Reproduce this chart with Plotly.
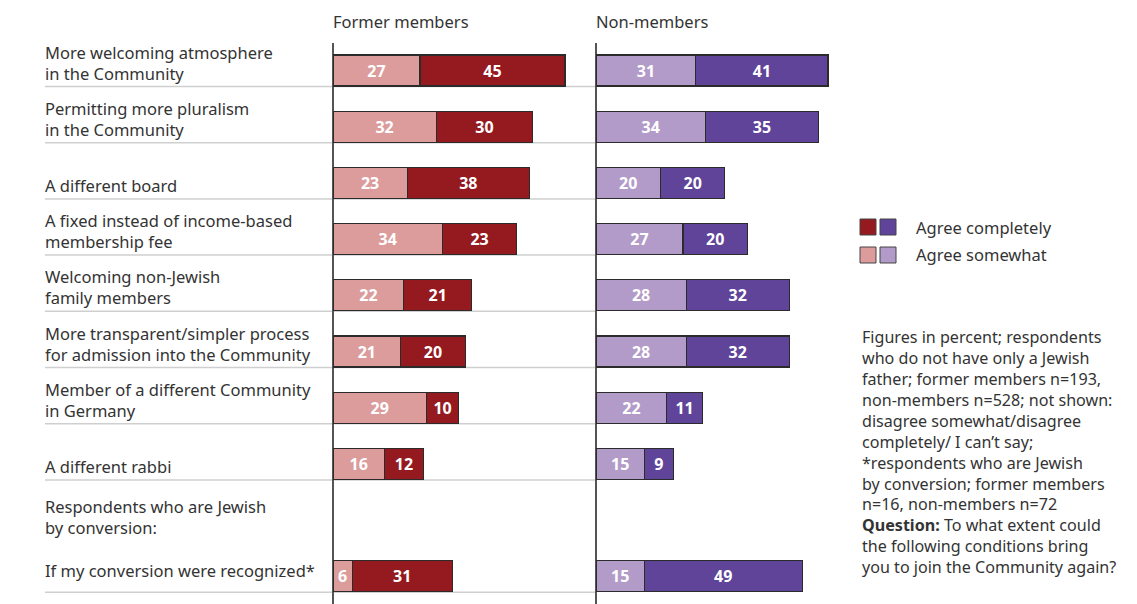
import plotly.graph_objects as go

W, H = 1137, 604
OFF = 8  # page body margin offset

categories = [
    "More welcoming atmosphere<br>in the Community",
    "Permitting more pluralism<br>in the Community",
    "A different board",
    "A fixed instead of income-based<br>membership fee",
    "Welcoming non-Jewish<br>family members",
    "More transparent/simpler process<br>for admission into the Community",
    "Member of a different Community<br>in Germany",
    "A different rabbi",
    "Respondents who are Jewish<br>by conversion:",
    "If my conversion were recognized*",
]
former_somewhat = [27, 32, 23, 34, 22, 21, 29, 16, None, 6]
former_completely = [45, 30, 38, 23, 21, 20, 10, 12, None, 31]
non_somewhat = [31, 34, 20, 27, 28, 28, 22, 15, None, 15]
non_completely = [41, 35, 20, 20, 32, 32, 11, 9, None, 49]
panel_titles = ["Former members", "Non-members"]
legend_labels = ["Agree completely", "Agree somewhat"]
note_text = (
    "Figures in percent; respondents<br>"
    "who do not have only a Jewish<br>"
    "father; former members n=193,<br>"
    "non-members n=528; not shown:<br>"
    "disagree somewhat/disagree<br>"
    "completely/ I can’t say;<br>"
    "*respondents who are Jewish<br>"
    "by conversion; former members<br>"
    "n=16, non-members n=72<br>"
    "<b>Question:</b> To what extent could<br>"
    "the following conditions bring<br>"
    "you to join the Community again?"
)

RED_D, RED_L = "#951a1f", "#dc9c9c"
PUR_D, PUR_L = "#5f4499", "#b39bc9"
FONT = "Noto Sans"
TXT = "#333333"
FS = 16.5

ypos = list(range(len(categories)))
BAR_W = 0.55

def txt(vals):
    return ["" if v is None else str(v) for v in vals]

def px(x):
    return (x - OFF) / W

def py(y):
    return 1 - (y - OFF) / H

fig = go.Figure()
for xa, vals, col, name in [
    ("x", former_somewhat, RED_L, "Agree somewhat"),
    ("x", former_completely, RED_D, "Agree completely"),
    ("x2", non_somewhat, PUR_L, "Agree somewhat"),
    ("x2", non_completely, PUR_D, "Agree completely"),
]:
    fig.add_trace(go.Bar(
        x=vals, y=ypos, orientation="h", xaxis=xa, yaxis="y",
        width=BAR_W, name=name, showlegend=False,
        marker=dict(color=col, line=dict(color="#2b2b2b", width=1.2)),
        text=txt(vals), textposition="inside", insidetextanchor="middle",
        textangle=0, constraintext="none",
        textfont=dict(family=FONT, size=16, color="white", weight="bold"),
        hoverinfo="skip",
    ))

# geometry (reference pixel coordinates)
px_per_unit = 3.222
x1_left, x2_left = 333, 596
xr = 80
row0, spacing = 70.5, 56.2
top_px = 43
ytop = (top_px - row0) / spacing
ybot = (H + OFF - row0) / spacing

fig.update_layout(
    width=W, height=H, margin=dict(l=0, r=0, t=0, b=0),
    paper_bgcolor="white", plot_bgcolor="white",
    barmode="stack", showlegend=False,
    uniformtext=dict(minsize=15, mode="show"),
    font=dict(family=FONT, color=TXT),
    xaxis=dict(domain=[px(x1_left), px(x1_left + xr * px_per_unit)], range=[0, xr],
               showgrid=False, showticklabels=False, zeroline=True,
               zerolinecolor="#555555", zerolinewidth=1.5, anchor="y", fixedrange=True),
    xaxis2=dict(domain=[px(x2_left), px(x2_left + xr * px_per_unit)], range=[0, xr],
                showgrid=False, showticklabels=False, zeroline=True,
                zerolinecolor="#555555", zerolinewidth=1.5, anchor="y", fixedrange=True),
    yaxis=dict(domain=[0, py(top_px)], range=[ybot, ytop], showgrid=False,
               showticklabels=False, zeroline=False, fixedrange=True),
)

# separators and labels
label_shift = {8: -5, 9: 8}
for i, cat in enumerate(categories):
    sep = i + 0.285
    if i != 8:
        fig.add_shape(type="line", xref="paper", yref="y", x0=px(45), x1=px(x2_left),
                      y0=sep, y1=sep, line=dict(color="#cfcfcf", width=1.5), layer="below")
    fig.add_annotation(xref="paper", yref="y", x=px(43), y=sep, xanchor="left",
                       yanchor="bottom", yshift=label_shift.get(i, 0), align="left",
                       showarrow=False, text=cat,
                       font=dict(family=FONT, size=FS, color=TXT))

# panel titles
for xl, t in zip([x1_left, x2_left], panel_titles):
    fig.add_annotation(xref="paper", yref="paper", x=px(xl - 2), y=py(21), xanchor="left",
                       yanchor="middle", showarrow=False, text=t,
                       font=dict(family=FONT, size=FS, color=TXT))

# legend
for j, (cols, lab) in enumerate(zip([(RED_D, PUR_D), (RED_L, PUR_L)], legend_labels)):
    yc = 227 + 28 * j
    for k, c in enumerate(cols):
        x0 = 860 + 20 * k
        fig.add_shape(type="rect", xref="paper", yref="paper",
                      x0=px(x0), x1=px(x0 + 16), y0=py(yc - 8), y1=py(yc + 8),
                      fillcolor=c, line=dict(color="#444444", width=1))
    fig.add_annotation(xref="paper", yref="paper", x=px(914), y=py(yc), xanchor="left",
                       yanchor="middle", showarrow=False, text=lab,
                       font=dict(family=FONT, size=FS, color=TXT))

# note
fig.add_annotation(xref="paper", yref="paper", x=px(860), y=py(324), xanchor="left",
                   yanchor="top", align="left", showarrow=False, text=note_text,
                   font=dict(family=FONT, size=16.1, color=TXT))

fig.write_html("out.html")
